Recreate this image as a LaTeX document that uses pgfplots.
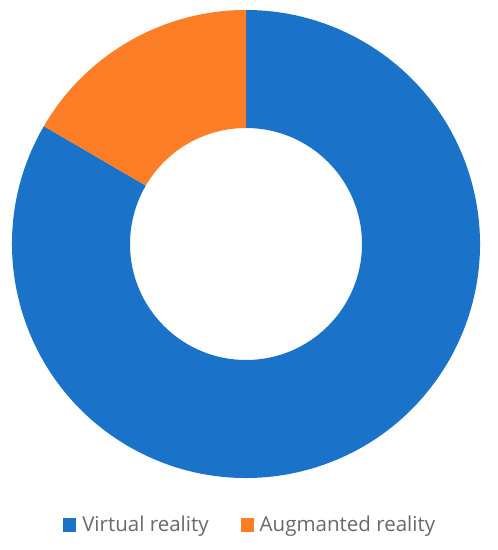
\documentclass[border=0pt]{standalone}
\usepackage{pgfplots}
\usepackage{pgfplotstable}
\pgfplotsset{compat=1.18}
\usepackage{fontspec}
\setmainfont{Open Sans}
\definecolor{vrblue}{RGB}{26,115,200}
\definecolor{arorange}{RGB}{253,126,38}
\definecolor{legtext}{RGB}{105,105,105}
\pgfplotstableread{
label value
Virtual 83.4
Augmented 16.6
}\shares
\begin{document}
\begin{tikzpicture}
\useasboundingbox (0,0) rectangle (498bp,550bp);
\pgfplotstablegetelem{0}{value}\of\shares \let\vVR=\pgfplotsretval
\pgfplotstablegetelem{1}{value}\of\shares \let\vAR=\pgfplotsretval
\pgfmathsetmacro{\tot}{\vVR+\vAR}
\pgfmathsetmacro{\aAR}{90+360*\vAR/\tot}
\def\Ro{234bp}
\def\Ri{116bp}
\begin{axis}[
  at={(12bp,72bp)}, anchor=south west,
  scale only axis, width=468bp, height=468bp,
  xmin=-1, xmax=1, ymin=-1, ymax=1,
  hide axis,
  clip=false,
  legend columns=2,
  legend style={at={(0.509,-0.1)}, anchor=center, draw=none, fill=none,
    font=\fontsize{20.6}{24}\selectfont\color{legtext},
    /tikz/every odd column/.append style={column sep=4bp},
    /tikz/every even column/.append style={column sep=30bp}},
  legend image code/.code={\fill[#1,draw=none] (0bp,-7bp) rectangle (13bp,7bp);},
]
\fill[vrblue] ([shift={(axis cs:0,0)}] \aAR:\Ro) arc[start angle=\aAR, end angle=450, radius=\Ro]
   -- ([shift={(axis cs:0,0)}] 450:\Ri) arc[start angle=450, end angle=\aAR, radius=\Ri] -- cycle;
\fill[arorange] ([shift={(axis cs:0,0)}] 90:\Ro) arc[start angle=90, end angle=\aAR, radius=\Ro]
   -- ([shift={(axis cs:0,0)}] \aAR:\Ri) arc[start angle=\aAR, end angle=90, radius=\Ri] -- cycle;
\addlegendimage{fill=vrblue}
\addlegendentry{Virtual reality}
\addlegendimage{fill=arorange}
\addlegendentry{Augmanted reality}
\end{axis}
\end{tikzpicture}
\end{document}
